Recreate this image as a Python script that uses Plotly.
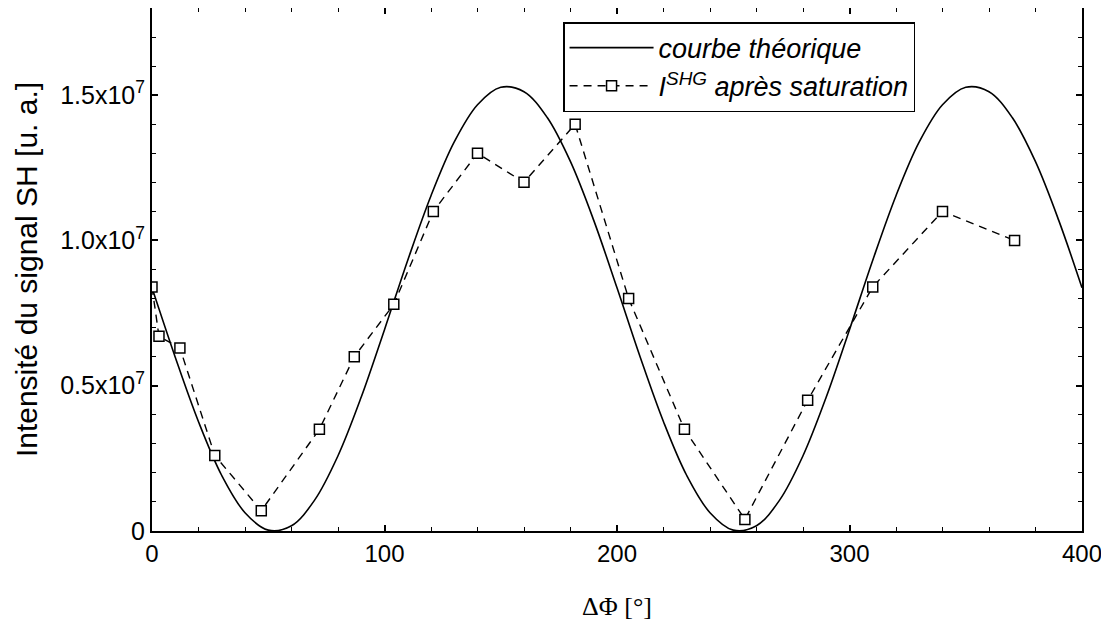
import plotly.graph_objects as go

# Theoretical curve, every 10 degrees (units: counts)
theory_x = [0, 10, 20, 30, 40, 50, 60, 70, 80, 90, 100, 110, 120, 130, 140, 150, 160, 170, 180, 190,
            200, 210, 220, 230, 240, 250, 260, 270, 280, 290, 300, 310, 320, 330, 340, 350, 360, 370, 380, 390, 400]
theory_y = [0.837e7, 0.598e7, 0.376e7, 0.191e7, 0.063e7, 0.003e7, 0.018e7, 0.107e7, 0.259e7, 0.461e7,
            0.693e7, 0.932e7, 1.154e7, 1.339e7, 1.467e7, 1.527e7, 1.512e7, 1.423e7, 1.271e7, 1.069e7,
            0.837e7, 0.598e7, 0.376e7, 0.191e7, 0.063e7, 0.003e7, 0.018e7, 0.107e7, 0.259e7, 0.461e7,
            0.693e7, 0.932e7, 1.154e7, 1.339e7, 1.467e7, 1.527e7, 1.512e7, 1.423e7, 1.271e7, 1.069e7, 0.837e7]

# Measured SHG intensity after saturation
meas_x = [0, 3, 12, 27, 47, 72, 87, 104, 121, 140, 160, 182, 205, 229, 255, 282, 310, 340, 371]
meas_y = [0.84e7, 0.67e7, 0.63e7, 0.26e7, 0.07e7, 0.35e7, 0.60e7, 0.78e7, 1.10e7, 1.30e7, 1.20e7, 1.40e7,
          0.80e7, 0.35e7, 0.04e7, 0.45e7, 0.84e7, 1.10e7, 1.00e7]

y_tickvals = [0, 0.5e7, 1.0e7, 1.5e7]
y_ticktext = ["0", "0.5x10<sup>7</sup>", "1.0x10<sup>7</sup>", "1.5x10<sup>7</sup>"]
x_tickvals = [0, 100, 200, 300, 400]

sans = "Liberation Sans, Arial, sans-serif"

fig = go.Figure()
fig.add_trace(go.Scatter(
    x=theory_x, y=theory_y, mode="lines",
    line=dict(color="black", width=1.6, shape="spline", smoothing=1.0),
    name="<i>courbe théorique</i>", legendgroup="a",
))
fig.add_trace(go.Scatter(
    x=meas_x, y=meas_y, mode="lines+markers",
    line=dict(color="black", width=1.4, dash="8px,6px"),
    marker=dict(symbol="square", size=10, color="white", line=dict(color="black", width=1.5)),
    name="<i>I<sup>SHG</sup> après saturation</i>", legendgroup="b",
))

# the page body adds an 8px offset, so the figure is 8px smaller than the window
fig.update_layout(
    width=1101, height=619,
    margin=dict(l=144, r=27, t=0, b=96),
    paper_bgcolor="white", plot_bgcolor="white",
    showlegend=True,
    legend=dict(
        x=0.442, y=0.973, xanchor="left", yanchor="top",
        bordercolor="black", borderwidth=1.5, bgcolor="white",
        font=dict(family=sans, size=27, color="black"),
        tracegroupgap=0, itemwidth=84,
    ),
    xaxis=dict(
        range=[0, 400], tickvals=x_tickvals, automargin=False,
        showline=True, linecolor="black", linewidth=2, mirror="allticks",
        ticks="inside", ticklen=6, tickwidth=1.5, tickcolor="black",
        minor=dict(dtick=20, ticks="inside", ticklen=4, tickwidth=1.2, tickcolor="black"),
        showgrid=False, zeroline=False,
        tickfont=dict(family=sans, size=24, color="black"),
        title=dict(text="ΔΦ [°]", font=dict(family="Liberation Serif, Times New Roman, serif", size=26, color="black"), standoff=31),
    ),
    yaxis=dict(
        range=[0, 1.8e7], tickvals=y_tickvals, ticktext=y_ticktext, automargin=False,
        showline=True, linecolor="black", linewidth=2, mirror="allticks",
        ticks="inside", ticklen=6, tickwidth=1.5, tickcolor="black",
        minor=dict(dtick=0.1e7, ticks="inside", ticklen=4, tickwidth=1.2, tickcolor="black"),
        showgrid=False, zeroline=False,
        tickfont=dict(family=sans, size=25, color="black"),
        title=dict(text="Intensité du signal SH [u. a.]", font=dict(family=sans, size=30, color="black"), standoff=14),
    ),
)

fig.write_html("out.html")
